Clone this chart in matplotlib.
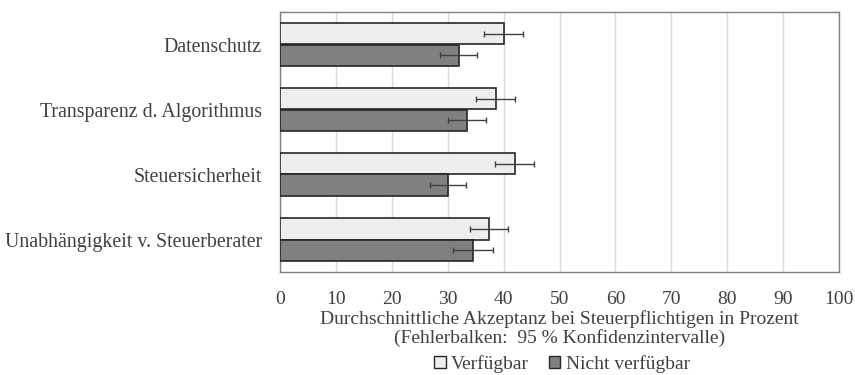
import matplotlib
matplotlib.use("Agg")
import matplotlib.pyplot as plt
import numpy as np
from matplotlib.patches import Patch

categories = ["Datenschutz", "Transparenz d. Algorithmus", "Steuersicherheit",
              "Unabhängigkeit v. Steuerberater"]
verfuegbar = [40.0, 38.6, 42.0, 37.3]
verfuegbar_err = [3.5, 3.5, 3.5, 3.4]
nicht_verfuegbar = [32.0, 33.5, 30.0, 34.5]
nicht_verfuegbar_err = [3.3, 3.4, 3.2, 3.6]
xticks = list(range(0, 101, 10))

plt.rcParams['font.family'] = ['Liberation Serif', 'DejaVu Serif']
txt = '#404040'
fs = 14

fig = plt.figure(figsize=(8.55, 3.75), dpi=100)
ax = fig.add_axes([280/855, 1-272/375, (839-280)/855, (272-12)/375])

n = len(categories)
y = np.arange(n)
h = 1/3
ekw = dict(ecolor='#404040', elinewidth=1.0, capsize=2.5, capthick=1.0)
ax.barh(y - h/2, verfuegbar, height=h, color='#eeeeee', edgecolor='#262626',
        linewidth=1.2, xerr=verfuegbar_err, error_kw=ekw, zorder=3, label='Verfügbar')
ax.barh(y + h/2, nicht_verfuegbar, height=h, color='#808080', edgecolor='#262626',
        linewidth=1.2, xerr=nicht_verfuegbar_err, error_kw=ekw, zorder=3, label='Nicht verfügbar')

ax.set_ylim(n - 0.5, -0.5)
ax.set_xlim(0, 100)
ax.set_yticks(y)
ax.set_yticklabels(categories, fontsize=14.3, color=txt)
ax.set_xticks(xticks)
ax.set_xticklabels([str(t) for t in xticks], fontsize=fs, color=txt)
ax.tick_params(axis='x', length=0, pad=14)
ax.tick_params(axis='y', length=0, pad=13)
ax.grid(axis='x', color='#d9d9d9', linewidth=1.0, zorder=0)
for s in ax.spines.values():
    s.set_color('#808080')
    s.set_linewidth(1.0)

ax.set_xlabel("Durchschnittliche Akzeptanz bei Steuerpflichtigen in Prozent\n(Fehlerbalken:  95 % Konfidenzintervalle)",
              fontsize=fs, color=txt, labelpad=1, linespacing=1.08)

handles = [Patch(facecolor='#eeeeee', edgecolor='#262626', linewidth=1.0),
           Patch(facecolor='#808080', edgecolor='#262626', linewidth=1.0)]
fig.legend(handles, ['Verfügbar', 'Nicht verfügbar'], loc='center',
           bbox_to_anchor=(562/855, 1-364/375), ncol=2, frameon=False,
           fontsize=fs, handlelength=0.6, handleheight=0.6, handletextpad=0.28,
           columnspacing=1.0, labelcolor=txt, borderpad=0)

fig.savefig("out.png", dpi=100)
